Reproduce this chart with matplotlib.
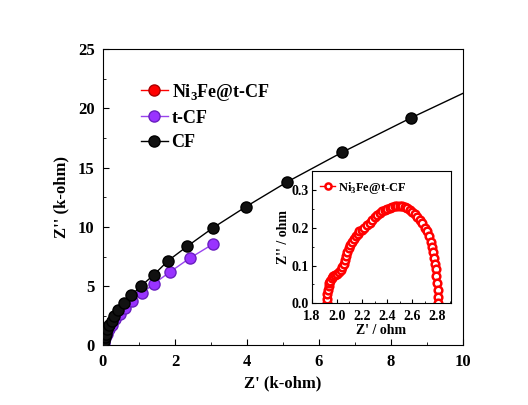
import numpy as np
import matplotlib.pyplot as plt
from matplotlib.ticker import MultipleLocator

plt.rcParams['font.family'] = ['Liberation Serif', 'DejaVu Serif']
plt.rcParams['font.weight'] = 'bold'
plt.rcParams['mathtext.fontset'] = 'custom'
plt.rcParams['mathtext.rm'] = 'Liberation Serif:bold'

# CF (k-ohm)
cf_x = [0.0, 0.01, 0.03, 0.05, 0.08, 0.12, 0.17, 0.24, 0.32, 0.43, 0.59, 0.79,
        1.06, 1.42, 1.81, 2.34, 3.06, 3.97, 5.12, 6.65, 8.56, 11.0]
cf_y = [0.0, 0.15, 0.4, 0.7, 1.0, 1.35, 1.7, 2.1, 2.5, 2.97, 3.59, 4.24,
        5.02, 5.98, 7.15, 8.36, 9.93, 11.7, 13.8, 16.3, 19.2, 22.7]
# t-CF (k-ohm)
tcf_x = [0.0, 0.02, 0.05, 0.1, 0.16, 0.24, 0.34, 0.47, 0.62, 0.82, 1.09, 1.42, 1.86, 2.42, 3.06]
tcf_y = [0.0, 0.25, 0.6, 0.95, 1.35, 1.75, 2.2, 2.65, 3.2, 3.79, 4.43, 5.22, 6.2, 7.38, 8.56]
# Ni3Fe@t-CF (ohm), inset
ni_x = [1.92, 1.92, 1.925, 1.93, 1.935, 1.94, 1.95, 1.96, 1.97, 1.985, 2.0, 2.02,
        2.035, 2.045, 2.055, 2.065, 2.075, 2.085, 2.095, 2.105, 2.12, 2.135, 2.15,
        2.165, 2.18, 2.2, 2.22, 2.24, 2.26, 2.28, 2.3, 2.32, 2.34, 2.36, 2.38, 2.4,
        2.42, 2.44, 2.46, 2.48, 2.5, 2.52, 2.54, 2.56, 2.58, 2.6, 2.62, 2.64, 2.66,
        2.68, 2.7, 2.715, 2.73, 2.745, 2.755, 2.765, 2.775, 2.78, 2.785, 2.79, 2.795,
        2.8, 2.8, 2.805]
ni_y = [0.0, 0.012, 0.024, 0.036, 0.045, 0.053, 0.06, 0.066, 0.071, 0.075, 0.078, 0.082,
        0.088, 0.096, 0.105, 0.115, 0.125, 0.135, 0.145, 0.153, 0.162, 0.17, 0.177,
        0.184, 0.19, 0.195, 0.2, 0.206, 0.213, 0.22, 0.227, 0.233, 0.238, 0.243, 0.247, 0.25,
        0.252, 0.254, 0.256, 0.257, 0.257, 0.256, 0.254, 0.251, 0.247, 0.242, 0.236, 0.229, 0.221,
        0.212, 0.2, 0.19, 0.177, 0.163, 0.15, 0.136, 0.12, 0.105, 0.09, 0.072, 0.055,
        0.036, 0.018, 0.0]

fig = plt.figure(figsize=(5.28, 4.05), dpi=100)
ax = fig.add_axes([0.195, 0.147, 0.682, 0.732])

ax.plot(np.array(ni_x) / 1000, ni_y, '-o', color='red', mfc='red', mec='#aa0000',
        ms=8, lw=1, label='Ni$_3$Fe@t-CF', zorder=1)
ax.plot(tcf_x, tcf_y, '-o', color='#9944ee', mfc='#9933ff', mec='#6a1fc0',
        ms=8, lw=1, label='t-CF', zorder=2)
ax.plot(cf_x, cf_y, '-o', color='black', mfc='#111111', mec='black',
        ms=8, lw=1, label='CF', zorder=3)

ax.set_xlim(0, 10)
ax.set_ylim(0, 25)
ax.xaxis.set_major_locator(MultipleLocator(2))
ax.xaxis.set_minor_locator(MultipleLocator(1))
ax.yaxis.set_major_locator(MultipleLocator(5))
ax.yaxis.set_minor_locator(MultipleLocator(2.5))
ax.tick_params(which='both', direction='in', labelsize=12)
ax.tick_params(which='major', length=4, pad=6)
ax.tick_params(which='minor', length=2.5)
ax.set_xlabel("Z' (k-ohm)", fontsize=12, fontweight='bold', labelpad=4)
ax.set_ylabel("Z'' (k-ohm)", fontsize=12, fontweight='bold', labelpad=6)
ax.legend(loc='upper left', bbox_to_anchor=(0.06, 0.945), frameon=False,
          handlelength=1.5, handletextpad=0.2, labelspacing=0.4,
          prop={'weight': 'bold', 'size': 13})

ins = fig.add_axes([0.590, 0.251, 0.265, 0.327])
ins.plot(ni_x, ni_y, '-o', color='red', mfc='white', mec='red', mew=1.8,
         ms=5.5, lw=1, label='Ni$_3$Fe@t-CF')
ins.set_xlim(1.8, 2.91)
ins.set_ylim(0, 0.35)
ins.xaxis.set_major_locator(MultipleLocator(0.2))
ins.xaxis.set_minor_locator(MultipleLocator(0.1))
ins.yaxis.set_major_locator(MultipleLocator(0.1))
ins.yaxis.set_minor_locator(MultipleLocator(0.05))
ins.tick_params(which='both', direction='in', labelsize=10, pad=2)
ins.tick_params(axis='x', pad=4.5)
ins.tick_params(which='major', length=3)
ins.tick_params(which='minor', length=1.5)
ins.set_xlabel("Z' / ohm", fontsize=10, fontweight='bold', labelpad=1)
ins.set_ylabel("Z'' / ohm", fontsize=10, fontweight='bold', labelpad=1)
ins.legend(loc='upper left', frameon=False, handlelength=1.2, handletextpad=0.2,
           borderaxespad=0.3, markerscale=0.8, prop={'weight': 'bold', 'size': 9})

fig.savefig('out.png', dpi=100)
